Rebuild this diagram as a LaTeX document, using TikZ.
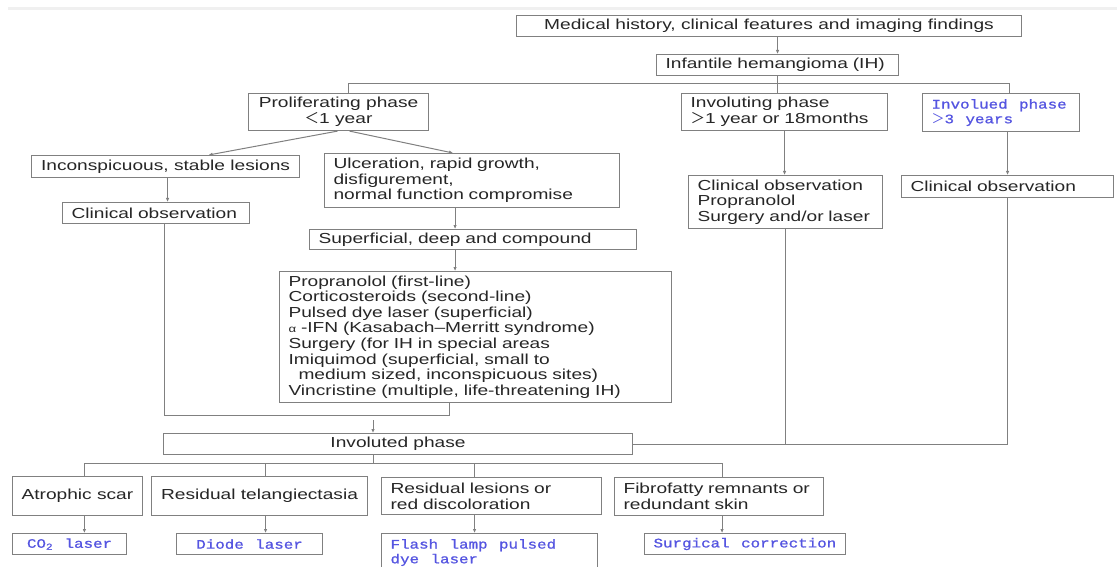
\documentclass[tikz,border=0pt]{standalone}
\usepackage{fontspec}
\setmainfont{Liberation Sans}[FakeStretch=1.32]
\newfontfamily\monofont{Liberation Mono}[FakeStretch=1.22,FakeBold=1,WordSpace=1.2]
\newfontfamily\cjk{Noto Sans CJK SC}
\usepackage{xcolor}
\usetikzlibrary{arrows.meta}
\definecolor{linegray}{RGB}{128,128,128}
\definecolor{txtblue}{RGB}{85,85,225}
\tikzset{
  box/.style={draw=linegray,line width=1.1pt,anchor=north west,inner xsep=9pt,inner ysep=0pt,text=black!85},
  bluebox/.style={box,font=\monofont\fontsize{13}{14.7}\selectfont,text=txtblue},
  link/.style={draw=linegray,line width=1pt},
  arr/.style={link,-{Latex[length=4pt,width=3.5pt]}}
}

\begin{document}
\begin{tikzpicture}[x=1pt,y=-1pt,font=\fontsize{14.5}{15.6}\selectfont]
\useasboundingbox (0,0) rectangle (1117,567);
\fill[white] (0,0) rectangle (1117,567);
\draw[gray!12,line width=3pt] (8,9) -- (1117,9);

% top of the tree
\node[box,minimum width=505pt,minimum height=21pt](med)at(516,15){Medical history, clinical features and imaging findings};
\node[box,minimum width=242pt,minimum height=21pt,text width=224pt,align=left](ih)at(656,54){Infantile hemangioma (IH)};
\node[box,minimum width=180pt,minimum height=37pt,align=center](prolif)at(248,93){Proliferating phase\\{\cjk ＜}1 year};
\node[box,minimum width=206pt,minimum height=37pt,text width=188pt,align=left](involuting)at(681,93){Involuting phase\\{\cjk ＞}1 year or 18months};
\node[bluebox,inner xsep=6pt,minimum width=157pt,minimum height=38pt,text width=145pt,align=flush left](involved)at(922,93){\hspace*{3pt}Involued~phase\\\hspace*{3pt}{\cjk ＞}3 years};

% proliferating branch
\node[box,minimum width=268pt,minimum height=22pt](incons)at(31,155){Inconspicuous, stable lesions};
\node[box,minimum width=187pt,minimum height=21pt,text width=169pt,align=left](obsA)at(62,202){Clinical observation};
\node[box,minimum width=295pt,minimum height=54pt,text width=277pt,align=left](ulcer)at(324,153){Ulceration, rapid growth,\\disfigurement,\\normal function compromise};
\node[box,minimum width=327pt,minimum height=20pt,text width=309pt,align=left](superf)at(309,229){Superficial, deep and compound};
\node[box,minimum width=392pt,minimum height=131pt,text width=374pt,align=left](treat)at(279,271){Propranolol (first-line)\\Corticosteroids (second-line)\\Pulsed dye laser (superficial)\\{\fontsize{10}{10}\selectfont α} -IFN (Kasabach–Merritt~syndrome)\\Surgery (for IH in special areas\\Imiquimod (superficial, small to\\\hspace*{10pt}medium sized, inconspicuous~sites)\\Vincristine~(multiple,~life-threatening~IH)};

% involuting and involved branches
\node[box,minimum width=194pt,minimum height=53pt,text width=176pt,align=left](combo)at(688,175){Clinical observation\\Propranolol\\Surgery and/or laser};
\node[box,minimum width=212pt,minimum height=22pt,text width=194pt,align=left](obsB)at(901,175){Clinical observation};

% involuted phase
\node[box,minimum width=469pt,minimum height=21pt](involuted)at(163,433){Involuted phase};
\node[box,minimum width=126pt,minimum height=39pt](atroph)at(12,476){Atrophic scar};
\node[box,minimum width=216pt,minimum height=39pt](telang)at(151,476){Residual telangiectasia};
\node[box,minimum width=220pt,minimum height=37pt,text width=202pt,align=left](lesions)at(381,477){Residual lesions or\\red discoloration};
\node[box,minimum width=209pt,minimum height=38pt,text width=191pt,align=left](fibro)at(614,477){Fibrofatty~remnants~or\\redundant skin};
\node[bluebox,minimum width=114pt,minimum height=21pt](co2)at(12,533){CO\textsubscript{2} laser};
\node[bluebox,minimum width=146pt,minimum height=21pt](diode)at(176,533){Diode laser};
\node[bluebox,minimum width=216pt,minimum height=38pt,text width=198pt,align=flush left](flash)at(381,533){Flash lamp pulsed\\dye laser};
\node[bluebox,minimum width=198pt,minimum height=21pt](surg)at(644,533){Surgical correction};

% connectors
\draw[arr] (med.south -| ih.north) -- (ih.north);
\draw[link] (ih.south) -- (ih.south |- involuting.north);
\draw[link] ([xshift=10pt]prolif.north) -- ++(0,-9) -| ([xshift=8pt]involved.north);
\draw[arr] ([xshift=-1pt]prolif.south) -- ([xshift=43pt]incons.north);
\draw[arr] ([xshift=11pt]prolif.south) -- ([xshift=-19pt]ulcer.north);
\draw[arr] ([xshift=2pt]incons.south) -- ([xshift=2pt]incons.south |- obsA.north);
\draw[arr] ([xshift=-17pt]ulcer.south) -- ([xshift=-17pt]ulcer.south |- superf.north);
\draw[arr] ([xshift=-18pt]superf.south) -- ([xshift=-18pt]superf.south |- treat.north);
\coordinate (back) at (449,415);
\draw[link] ([xshift=8.5pt]obsA.south) |- (back) -- (back |- treat.south);
\coordinate (gap) at (373,420);
\draw[arr] (gap) -- (gap |- involuted.north);
\draw[arr] (involuting.south) -- (involuting.south |- combo.north);
\draw[arr] (obsB.north |- involved.south) -- (obsB.north);
\draw[link] (involuted.east) -| (obsB.south);
\draw[link] (combo.south) -- (combo.south |- involuted.east);
\coordinate (split) at (373,463);
\draw[link] (split |- involuted.south) -- (split);
\foreach \n/\m/\dx in {atroph/co2/7,telang/diode/6,lesions/flash/-17,fibro/surg/3}{
  \draw[link] ([xshift=\dx pt]\n.north) |- (split);
  \draw[arr] ([xshift=\dx pt]\n.south) -- ([xshift=\dx pt]\n.south |- \m.north);
}
\end{tikzpicture}
\end{document}
